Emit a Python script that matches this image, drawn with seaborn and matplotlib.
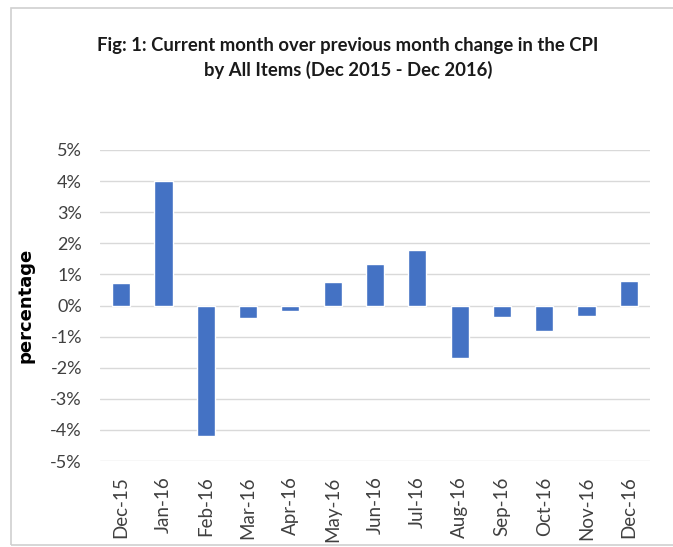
import matplotlib
matplotlib.use("Agg")
import matplotlib.pyplot as plt
from matplotlib.patches import Rectangle
from matplotlib.ticker import FuncFormatter
import seaborn as sns
import pandas as pd

months = ["Dec-15", "Jan-16", "Feb-16", "Mar-16", "Apr-16", "May-16", "Jun-16",
          "Jul-16", "Aug-16", "Sep-16", "Oct-16", "Nov-16", "Dec-16"]
change_pct = [0.72, 4.01, -4.21, -0.41, -0.18, 0.75, 1.32,
              1.80, -1.70, -0.37, -0.81, -0.34, 0.80]
y_ticks = [5, 4, 3, 2, 1, 0, -1, -2, -3, -4, -5]

title = "Fig: 1: Current month over previous month change in the CPI\nby All Items (Dec 2015 - Dec 2016)"
ylabel = "percentage"

sns.set_theme(style="white")
plt.rcParams["font.family"] = ["Lato", "DejaVu Sans"]

df = pd.DataFrame({"month": months, "change": change_pct})

fig = plt.figure(figsize=(6.73, 5.47), dpi=100)
ax = fig.add_axes([100/673, 1-461/547, 550/673, 311/547])

sns.barplot(data=df, x="month", y="change", color="#4472C4", saturation=1,
            width=0.43, ax=ax, zorder=3)

ax.set_ylim(-5, 5)
ax.set_yticks(y_ticks)
ax.yaxis.set_major_formatter(FuncFormatter(lambda v, p: f"{int(round(v))}%"))
ax.grid(axis="y", color="#D9D9D9", linewidth=1.0, zorder=0)
ax.grid(axis="x", visible=False)
for s in ax.spines.values():
    s.set_visible(False)
ax.tick_params(axis="y", labelsize=13, colors="#404040", length=0, pad=13)
ax.tick_params(axis="x", labelsize=13.5, colors="#404040", length=0, pad=11, rotation=90)
ax.set_xlabel("")
ax.set_ylabel(ylabel, fontsize=13, fontweight="bold", color="black",
              family=["DejaVu Sans"])
ax.yaxis.set_label_coords(-65/550, 0.5)

fig.text(348/673, 1-58/547, title, ha="center", va="center", fontsize=13.3,
         fontweight="bold", color="#1a1a1a", linespacing=1.5)

fig.patches.append(Rectangle((11/673, 2/547), 1.0, 1-10/547, transform=fig.transFigure,
                             fill=False, edgecolor="#D0D0D0", linewidth=1.2))

fig.savefig("out.png", dpi=100)
